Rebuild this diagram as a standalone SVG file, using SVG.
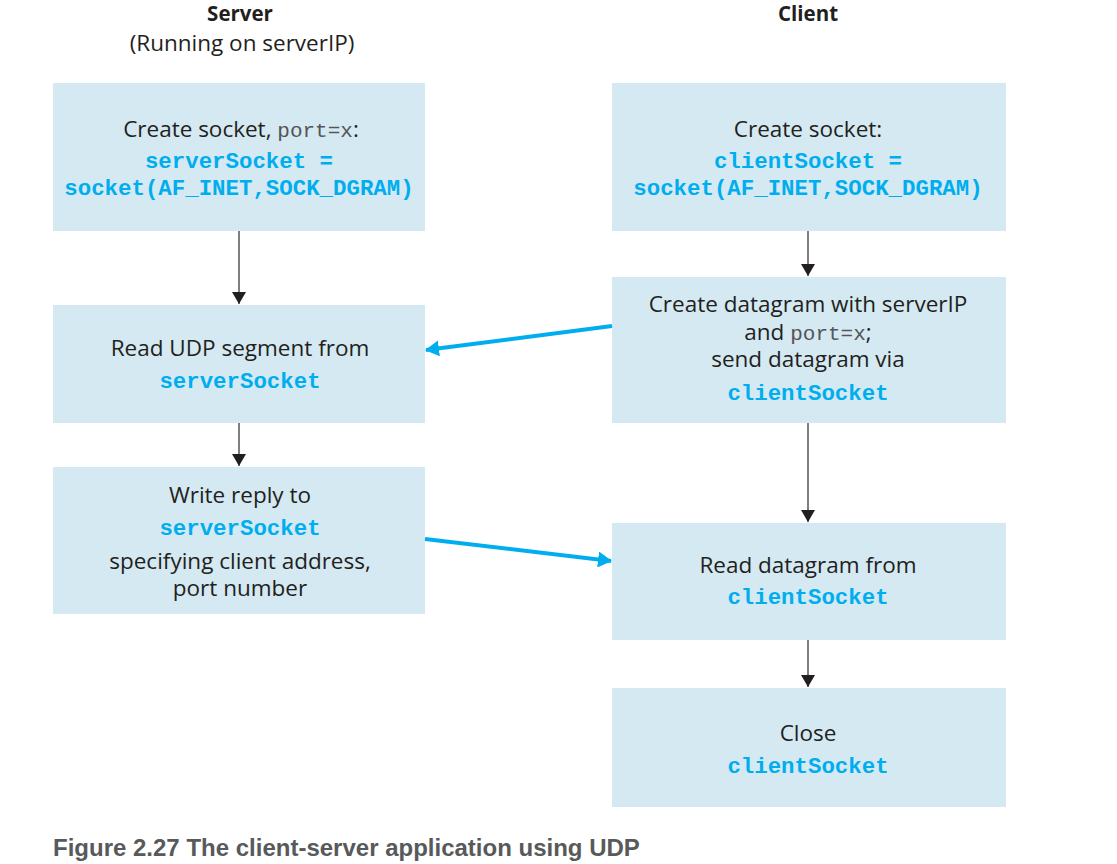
<svg xmlns="http://www.w3.org/2000/svg" width="1117" height="864" viewBox="0 0 1117 864">
<style>
.box{fill:#d4e9f2;}
.t{font-family:"Open Sans","Liberation Sans",sans-serif;font-size:22.5px;fill:#231f20;text-anchor:middle;}
.h{font-family:"Open Sans","Liberation Sans",sans-serif;font-size:20.5px;font-weight:bold;fill:#231f20;text-anchor:middle;}
.m{font-family:"Liberation Mono",monospace;font-size:22.4px;font-weight:bold;fill:#00aeef;text-anchor:middle;}
.mn{font-family:"Liberation Mono",monospace;font-size:21px;fill:#555;}
.k{stroke:#555;stroke-width:1.5;fill:none;}
.b{stroke:#00aeef;stroke-width:4;fill:none;}
.cap{font-family:"Liberation Sans",Arial,sans-serif;font-size:24px;font-weight:bold;fill:#58595b;}
</style>
<defs>
<marker id="ak" viewBox="0 0 12 14" refX="12" refY="7" markerWidth="12" markerHeight="14" markerUnits="userSpaceOnUse" orient="auto">
<path d="M0,0 L12,7 L0,14 Z" fill="#231f20"/>
</marker>
<marker id="ab" viewBox="0 0 14 16" refX="13" refY="8" markerWidth="14" markerHeight="16" markerUnits="userSpaceOnUse" orient="auto">
<path d="M0,0 L14,8 L0,16 Z" fill="#00aeef"/>
</marker>
</defs>
<rect width="1117" height="864" fill="#fff"/>
<g id="headers">
<text class="h" x="240" y="21">Server</text>
<text class="t" x="242" y="51">(Running on serverIP)</text>
<text class="h" x="808" y="21">Client</text>
</g>
<g id="s1">
<rect class="box" x="53" y="83" width="372" height="148"/>
<text class="t" x="241" y="137">Create  socket, <tspan class="mn">port=x</tspan>:</text>
<text class="m" x="239" y="168">serverSocket =</text>
<text class="m" x="239" y="195">socket(AF_INET,SOCK_DGRAM)</text>
</g>
<g id="s2">
<rect class="box" x="53" y="305" width="372" height="118"/>
<text class="t" x="240" y="356">Read UDP segment from</text>
<text class="m" x="240" y="388">serverSocket</text>
</g>
<g id="s3">
<rect class="box" x="53" y="467" width="372" height="147"/>
<text class="t" x="240" y="503">Write reply to</text>
<text class="m" x="240" y="535">serverSocket</text>
<text class="t" x="240" y="569">specifying client address,</text>
<text class="t" x="240" y="596">port number</text>
</g>
<g id="c1">
<rect class="box" x="612" y="83" width="394" height="148"/>
<text class="t" x="808" y="137">Create socket:</text>
<text class="m" x="808" y="168">clientSocket =</text>
<text class="m" x="808" y="195">socket(AF_INET,SOCK_DGRAM)</text>
</g>
<g id="c2">
<rect class="box" x="612" y="277" width="394" height="146"/>
<text class="t" x="808" y="312">Create datagram with serverIP</text>
<text class="t" x="808" y="340">and <tspan class="mn">port=x</tspan>;</text>
<text class="t" x="808" y="367">send datagram via</text>
<text class="m" x="808" y="400">clientSocket</text>
</g>
<g id="c3">
<rect class="box" x="612" y="523" width="394" height="117"/>
<text class="t" x="808" y="573">Read datagram from</text>
<text class="m" x="808" y="604">clientSocket</text>
</g>
<g id="c4">
<rect class="box" x="612" y="688" width="394" height="119"/>
<text class="t" x="808" y="741">Close</text>
<text class="m" x="808" y="773">clientSocket</text>
</g>
<g id="connectors">
<line class="k" x1="239" y1="231" x2="239" y2="304" marker-end="url(#ak)"/>
<line class="k" x1="239" y1="423" x2="239" y2="466" marker-end="url(#ak)"/>
<line class="k" x1="808" y1="231" x2="808" y2="276" marker-end="url(#ak)"/>
<line class="k" x1="808" y1="423" x2="808" y2="522" marker-end="url(#ak)"/>
<line class="k" x1="808" y1="640" x2="808" y2="687" marker-end="url(#ak)"/>
<line class="b" x1="612" y1="326" x2="426" y2="350" marker-end="url(#ab)"/>
<line class="b" x1="425" y1="539" x2="611" y2="561" marker-end="url(#ab)"/>
</g>
<text class="cap" x="53" y="856">Figure 2.27 The client-server application using UDP</text>
</svg>
